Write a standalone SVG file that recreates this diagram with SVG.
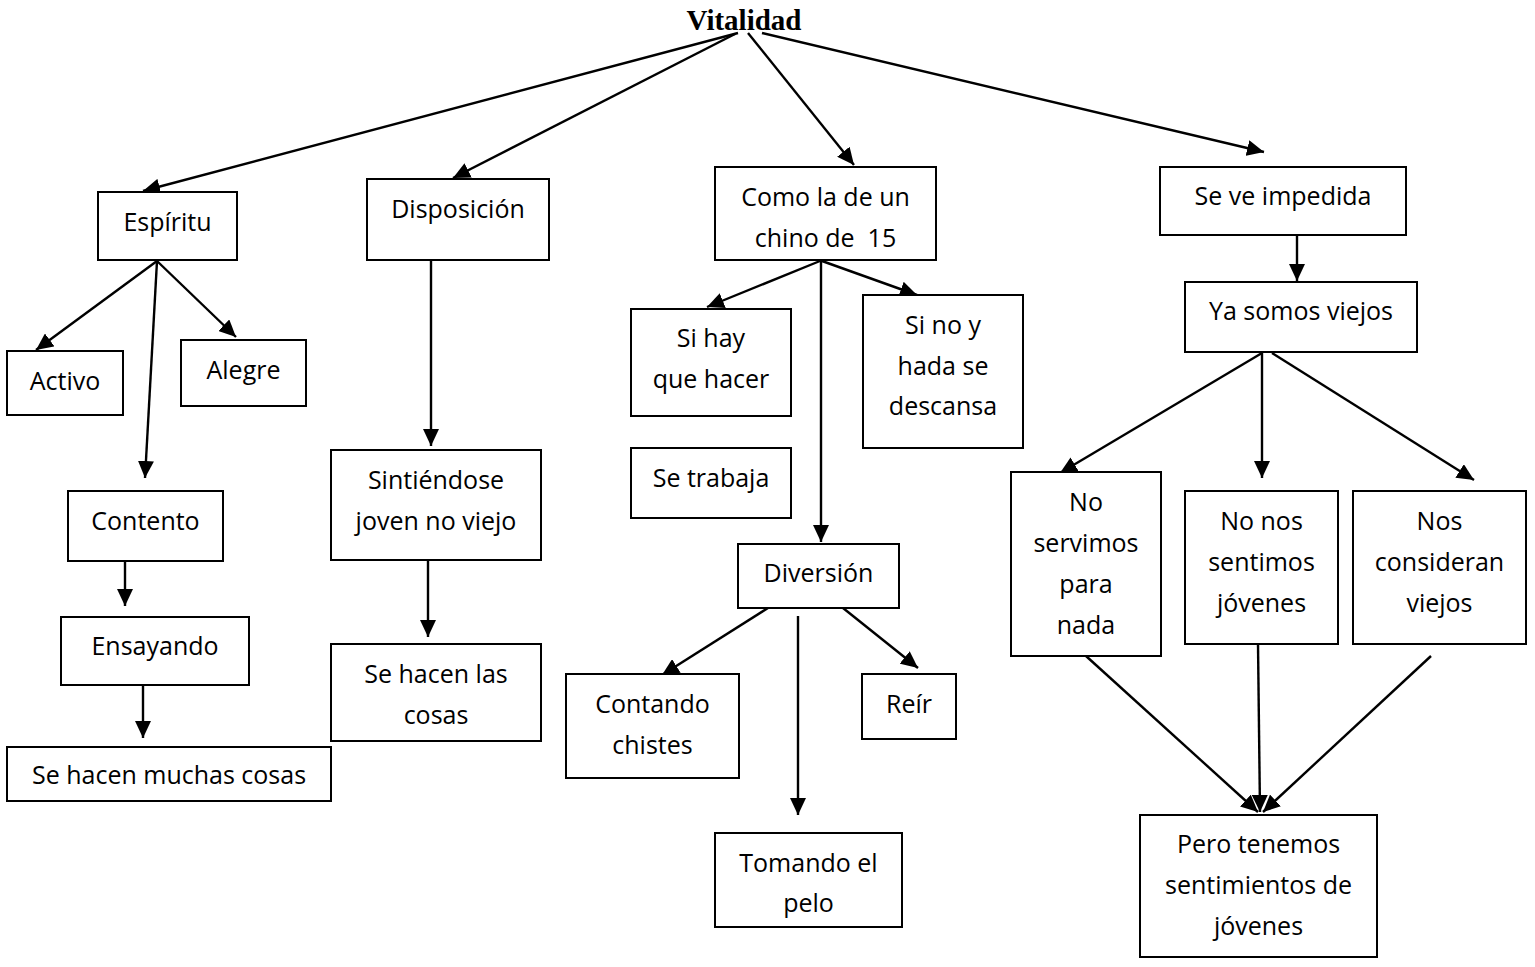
<svg xmlns="http://www.w3.org/2000/svg" width="1535" height="967" viewBox="0 0 1535 967">
<style>
.box{fill:#fff;stroke:#000;stroke-width:2}
.t{font-family:"Open Sans","Liberation Sans",sans-serif;font-size:25px;fill:#000;text-anchor:middle}
.title{font-family:"Liberation Serif","Times New Roman",serif;font-size:29px;font-weight:bold;fill:#000;text-anchor:middle}
.c{stroke:#000;stroke-width:2.4;fill:none;marker-end:url(#ah)}
</style>
<defs>
<marker id="ah" markerUnits="userSpaceOnUse" markerWidth="17" markerHeight="16" refX="17" refY="8" orient="auto">
<path d="M0,0 L17,8 L0,16 z" fill="#000"/>
</marker>
</defs>
<rect width="1535" height="967" fill="#fff"/>
<g id="connectors">
<line class="c" x1="738" y1="33" x2="143" y2="191"/>
<line class="c" x1="735" y1="34" x2="453" y2="178"/>
<line class="c" x1="748" y1="33" x2="854" y2="165"/>
<line class="c" x1="762" y1="33" x2="1264" y2="152"/>
<line class="c" x1="157" y1="261" x2="36" y2="350"/>
<line class="c" x1="157" y1="261" x2="236" y2="337"/>
<line class="c" x1="157" y1="261" x2="145" y2="478"/>
<line class="c" x1="125" y1="561" x2="125" y2="606"/>
<line class="c" x1="143" y1="685" x2="143" y2="738"/>
<line class="c" x1="431" y1="260" x2="431" y2="446"/>
<line class="c" x1="428" y1="560" x2="428" y2="637"/>
<line class="c" x1="820" y1="261" x2="707" y2="307"/>
<line class="c" x1="822" y1="261" x2="917" y2="295"/>
<line class="c" x1="821" y1="261" x2="821" y2="542"/>
<line class="c" x1="768" y1="608" x2="662" y2="675"/>
<line class="c" x1="798" y1="616" x2="798" y2="815"/>
<line class="c" x1="843" y1="608" x2="918" y2="668"/>
<line class="c" x1="1297" y1="235" x2="1297" y2="281"/>
<line class="c" x1="1262" y1="353" x2="1060" y2="473"/>
<line class="c" x1="1262" y1="353" x2="1262" y2="478"/>
<line class="c" x1="1272" y1="353" x2="1474" y2="480"/>
<line class="c" x1="1086" y1="656" x2="1258" y2="812"/>
<line class="c" x1="1258" y1="644" x2="1260" y2="812"/>
<line class="c" x1="1431" y1="656" x2="1263" y2="812"/>
</g>
<g id="n-vitalidad"><text class="title" x="744" y="30">Vitalidad</text></g>
<g id="n-espiritu"><rect class="box" x="98" y="192" width="139" height="68"/><text class="t" x="167.5" y="231">Espíritu</text></g>
<g id="n-activo"><rect class="box" x="7" y="351" width="116" height="64"/><text class="t" x="65" y="390">Activo</text></g>
<g id="n-alegre"><rect class="box" x="181" y="340" width="125" height="66"/><text class="t" x="243.5" y="379">Alegre</text></g>
<g id="n-contento"><rect class="box" x="68" y="491" width="155" height="70"/><text class="t" x="145.5" y="530">Contento</text></g>
<g id="n-ensayando"><rect class="box" x="61" y="617" width="188" height="68"/><text class="t" x="155" y="655">Ensayando</text></g>
<g id="n-muchas"><rect class="box" x="7" y="747" width="324" height="54"/><text class="t" x="169" y="784">Se hacen muchas cosas</text></g>
<g id="n-disposicion"><rect class="box" x="367" y="179" width="182" height="81"/><text class="t" x="458" y="218">Disposición</text></g>
<g id="n-sintiendose"><rect class="box" x="331" y="450" width="210" height="110"/><text class="t" x="436" y="489">Sintiéndose</text><text class="t" x="436" y="530">joven no viejo</text></g>
<g id="n-cosas"><rect class="box" x="331" y="644" width="210" height="97"/><text class="t" x="436" y="683">Se hacen las</text><text class="t" x="436" y="724">cosas</text></g>
<g id="n-como"><rect class="box" x="715" y="167" width="221" height="93"/><text class="t" x="825.5" y="206">Como la de un</text><text class="t" x="825.5" y="247" style="white-space:pre">chino de  15</text></g>
<g id="n-sihay"><rect class="box" x="631" y="309" width="160" height="107"/><text class="t" x="711" y="347">Si hay</text><text class="t" x="711" y="388">que hacer</text></g>
<g id="n-trabaja"><rect class="box" x="631" y="448" width="160" height="70"/><text class="t" x="711" y="487">Se trabaja</text></g>
<g id="n-sino"><rect class="box" x="863" y="295" width="160" height="153"/><text class="t" x="943" y="334">Si no y</text><text class="t" x="943" y="375">hada se</text><text class="t" x="943" y="415">descansa</text></g>
<g id="n-diversion"><rect class="box" x="738" y="544" width="161" height="64"/><text class="t" x="818.5" y="582">Diversión</text></g>
<g id="n-contando"><rect class="box" x="566" y="674" width="173" height="104"/><text class="t" x="652.5" y="713">Contando</text><text class="t" x="652.5" y="754">chistes</text></g>
<g id="n-reir"><rect class="box" x="862" y="674" width="94" height="65"/><text class="t" x="909" y="713">Reír</text></g>
<g id="n-tomando"><rect class="box" x="715" y="833" width="187" height="94"/><text class="t" x="808.5" y="872">Tomando el</text><text class="t" x="808.5" y="912">pelo</text></g>
<g id="n-seve"><rect class="box" x="1160" y="167" width="246" height="68"/><text class="t" x="1283" y="205">Se ve impedida</text></g>
<g id="n-ya"><rect class="box" x="1185" y="282" width="232" height="70"/><text class="t" x="1301" y="320">Ya somos viejos</text></g>
<g id="n-noservimos"><rect class="box" x="1011" y="472" width="150" height="184"/><text class="t" x="1086" y="511">No</text><text class="t" x="1086" y="552">servimos</text><text class="t" x="1086" y="593">para</text><text class="t" x="1086" y="634">nada</text></g>
<g id="n-nonos"><rect class="box" x="1185" y="491" width="153" height="153"/><text class="t" x="1261.5" y="530">No nos</text><text class="t" x="1261.5" y="571">sentimos</text><text class="t" x="1261.5" y="612">jóvenes</text></g>
<g id="n-nos"><rect class="box" x="1353" y="491" width="173" height="153"/><text class="t" x="1439.5" y="530">Nos</text><text class="t" x="1439.5" y="571">consideran</text><text class="t" x="1439.5" y="612">viejos</text></g>
<g id="n-pero"><rect class="box" x="1140" y="815" width="237" height="142"/><text class="t" x="1258.5" y="853">Pero tenemos</text><text class="t" x="1258.5" y="894">sentimientos de</text><text class="t" x="1258.5" y="935">jóvenes</text></g>
</svg>
